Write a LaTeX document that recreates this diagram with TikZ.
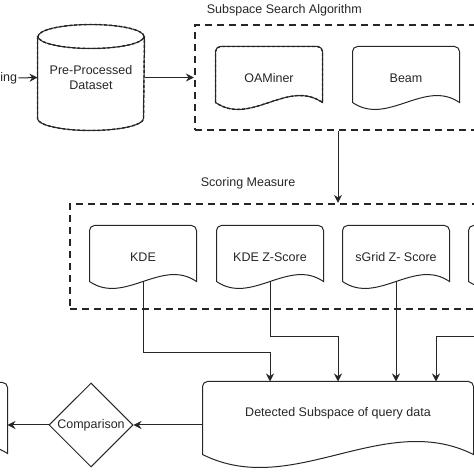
\documentclass[tikz,border=0pt]{standalone}
\usepackage{fontspec}
\setmainfont{Liberation Sans}
\usetikzlibrary{shapes.geometric,arrows.meta}
\definecolor{ink}{HTML}{262626}
% outline of a document shape round a node: name, side bottom shift, w/3, wave
\newcommand{\docline}[5][]{%
\draw[#1] ([yshift=#3]#2.south west) -- ([yshift=-5pt]#2.north west) arc[start angle=180,end angle=90,radius=5pt] -- ([xshift=-5pt]#2.north east) arc[start angle=90,end angle=0,radius=5pt] -- ([yshift=#3]#2.south east) .. controls +(-#4,#5) and +(#4,-#5) .. ([yshift=#3]#2.south west) -- cycle;}
\begin{document}
\begin{tikzpicture}[x=1pt,y=1pt,line width=1pt,draw=ink,text=ink,
  font=\fontsize{12.5}{15}\selectfont,
  box/.style={inner sep=0pt,minimum width=#1,minimum height=62pt},
  box/.default=106pt,
  dashbox/.style={draw,line width=2.2pt,dash pattern=on 7pt off 5pt,inner sep=0pt},
  selline/.style={line width=1.4pt,dash pattern=on 3pt off 2pt},
  arr/.style={-{Stealth[length=8pt,width=8pt]}}]
\useasboundingbox (0,0) rectangle (474,474);
\clip (0,0) rectangle (474,474);

% input side
\node[anchor=east,inner sep=0pt] (pre) at (17.5,396) {ing};
\node[inner sep=0pt,minimum width=106pt,minimum height=105pt,align=center] (prep) at (91,396.5) {Pre-Processed\\Dataset};
\foreach \st in {solid,selline}{
  \draw[\st] ([yshift=-12pt]prep.north) ellipse[x radius=53pt,y radius=12pt];
  \draw[\st] ([yshift=-12pt]prep.north west) -- ([yshift=12pt]prep.south west) arc[start angle=180,end angle=360,x radius=53pt,y radius=12pt] -- ([yshift=-12pt]prep.north east);
}

% subspace search
\node[dashbox,minimum width=286pt,minimum height=105pt] (search) at (338,396.5) {};
\node[anchor=west] (searchlbl) at (203,464) {Subspace Search Algorithm};
\node[box] (oam) at (269,396) {OAMiner};
\node[box] (beam) at (406,396) {Beam};
\docline{oam}{7pt}{35}{24}
\docline[selline]{oam}{7pt}{35}{24}
\docline{beam}{7pt}{35}{24}

% scoring
\node[dashbox,minimum width=536pt,minimum height=105pt] (scoring) at (338,217.5) {};
\node[anchor=west] (scorelbl) at (197,291) {Scoring Measure};
\node[box] (kde) at (143,217) {KDE};
\node[box] (kdez) at (270,217) {KDE Z-Score};
\node[box] (sgrid) at (396,217) {sGrid Z- Score};
\node[box] (more) at (522,217) {};
\foreach \n in {kde,kdez,sgrid,more}{
  \docline{\n}{7pt}{35}{24}
}

% result side
\node[box=270pt] (det) at (338,61) {Detected Subspace of query data};
\docline{det}{-10pt}{90}{45}
\node[draw,diamond,aspect=1,inner sep=0pt,minimum width=84pt,minimum height=84pt] (cmp) at (91,49) {Comparison};
\node[box] (res) at (-46,60) {};
\docline{res}{-8pt}{35}{24}

% connectors
\draw[arr] ([xshift=1pt]pre.east) -- (prep.west);
\draw[arr] (prep.east) -- (search.west);
\draw[arr] (search.south) -- (scoring.north);
\draw[arr] ([yshift=7pt]kde.south) -- ++(0,-71) -| ([xshift=-68pt]det.north);
\draw[arr] ([yshift=7pt]kdez.south) -- ++(0,-55) -| (det.north);
\draw[arr] ([yshift=7pt]sgrid.south) -- (sgrid.south |- det.north);
\draw[arr] ([yshift=7pt]more.south) -- ++(0,-55) -| ([xshift=98pt]det.north);
\draw[arr] (det.west |- cmp.east) -- (cmp.east);
\draw[arr] (cmp.west) -- (cmp.west -| res.east);
\end{tikzpicture}
\end{document}
